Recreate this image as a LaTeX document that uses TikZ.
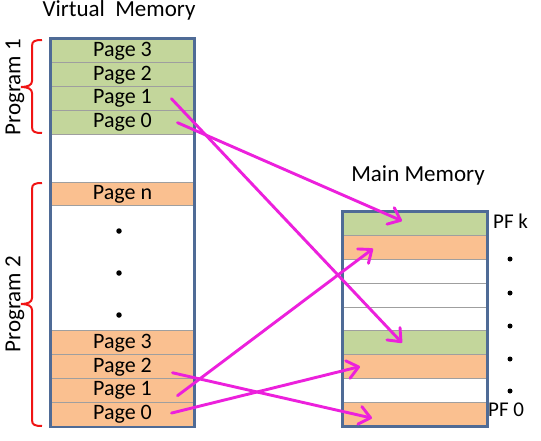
\documentclass[tikz,border=0pt]{standalone}
\usepackage{fontspec}
\setmainfont{Carlito}
\usetikzlibrary{
	arrows.meta}
\definecolor{pagegreen}{RGB}{195,214,155}
\definecolor{pageorange}{RGB}{250,192,144}
\definecolor{framecol}{RGB}{79,107,150}
\definecolor{linkcol}{RGB}{236,32,220}
\definecolor{bracecol}{RGB}{240,20,20}

\begin{document}
\begin{tikzpicture}[x=1pt,y=-1pt,
    page/.style={draw=gray!75,line width=1pt,minimum width=143pt,minimum height=23.9pt,
      inner sep=0pt,font=\fontsize{22}{24}\selectfont},
    frame/.style={draw=framecol,line width=2.2pt},
    link/.style={draw=linkcol,line width=2.9pt,line cap=round,
      -{Straight Barb[length=11pt,width=18pt,line cap=round,line join=round]}},
    progbrace/.style={draw=bracecol,line width=2pt},
    title/.style={anchor=base,font=\fontsize{23}{25}\selectfont},
    label/.style={font=\fontsize{21}{23}\selectfont},
    dot/.style={circle,fill=black,inner sep=0pt,minimum size=5.5pt}]
      \useasboundingbox (0,0) rectangle (541,440);

      \node[title] (vmtitle) at (119,16) {Virtual\ \ Memory};
      \node[title] (mmtitle) at (418,181) {Main Memory};

      % virtual memory
      \node[page,fill=pagegreen] (V1p3) at (122.5,50.95) {Page 3};
      \node[page,fill=pagegreen] (V1p2) at (122.5,74.85) {Page 2};
      \node[page,fill=pagegreen] (V1p1) at (122.5,98.75) {Page 1};
      \node[page,fill=pagegreen] (V1p0) at (122.5,122.65) {Page 0};
      \node[page,fill=pageorange] (Vpn) at (122.5,194) {Page n};
      \node[page,fill=pageorange] (V2p3) at (122.5,342.85) {Page 3};
      \node[page,fill=pageorange] (V2p2) at (122.5,366.75) {Page 2};
      \node[page,fill=pageorange] (V2p1) at (122.5,390.65) {Page 1};
      \node[page,fill=pageorange] (V2p0) at (122.5,414.55) {Page 0};
      \foreach \y [count=\i] in {231,273,315}
        \node[dot] (vdot\i) at (119,\y) {};
      \draw[frame] (V1p3.north west) rectangle (V2p0.south east);

      % main memory
      \foreach \c [count=\i from 0] in {pagegreen,pageorange,white,white,white,pagegreen,pageorange,white,pageorange}
        \node[page,minimum width=144pt,minimum height=23.78pt,fill=\c] (M\i) at (415,{212+23.78*(\i+0.5)}) {};
      \draw[frame] (M0.north west) rectangle (M8.south east);
      \foreach \y [count=\i] in {259,293,326,359,391}
        \node[dot,minimum size=5pt] (mdot\i) at (510,\y) {};
      \node[label,anchor=west,inner sep=0pt] (pfk) at (493,221) {PF k};
      \node[label,anchor=west,inner sep=0pt] (pf0) at (488,410) {PF 0};

      % programs
      \draw[progbrace] (42,40) .. controls (35,40) and (32,41) .. (32,46) -- (32,81)
        .. controls (32,85) and (28,87) .. (21,87) .. controls (28,87) and (32,89) .. (32,93)
        -- (32,127) .. controls (32,132) and (35,133) .. (42,133);
      \draw[progbrace] (42,183) .. controls (35,183) and (32,184) .. (32,189) -- (32,298)
        .. controls (32,302) and (28,304) .. (21,304) .. controls (28,304) and (32,306) .. (32,310)
        -- (32,420) .. controls (32,425) and (35,426) .. (42,426);
      \node[label,rotate=90,font=\fontsize{23}{25}\selectfont] (prog1) at (15,87) {Program 1};
      \node[label,rotate=90,font=\fontsize{23}{25}\selectfont] (prog2) at (15,304) {Program 2};

      % page mapping
      \draw[link] ([xshift=-23pt]V1p1.east) to ([xshift=-13pt]M5.center);
      \draw[link] ([xshift=-17pt]V1p0.east) to ([xshift=-13pt,yshift=3pt]M0.center);
      \draw[link] ([xshift=-17pt,yshift=-5pt]V2p1.east) to ([xshift=-42pt,yshift=-1pt]M1.center);
      \draw[link] ([xshift=-23pt,yshift=1.5pt]V2p0.east) to ([xshift=-55pt]M6.center);
      \draw[link] ([xshift=-22pt,yshift=-6pt]V2p2.east) to ([xshift=-43pt,yshift=-4pt]M8.center);
  \end{tikzpicture}
\end{document}
